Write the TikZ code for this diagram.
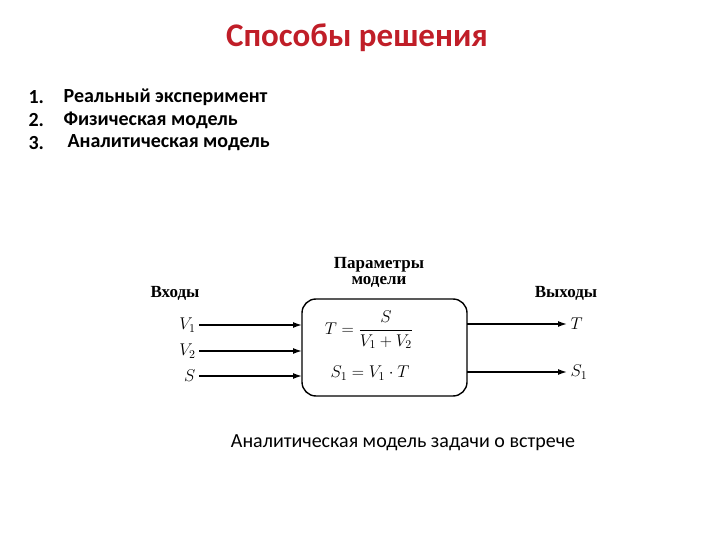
\RequirePackage{fix-cm}
\documentclass[tikz,border=0pt]{standalone}
\usepackage{fontspec}
\setmainfont{Carlito}
\newfontfamily\timesfont{Liberation Serif}
\usepackage{amsmath}
\usepackage{tikz}
\usetikzlibrary{arrows.meta}
\definecolor{titlered}{RGB}{192,30,40}
\tikzset{
    lbl/.style={font=\timesfont\bfseries\fontsize{17}{17}\selectfont, align=center},
    itm/.style={font=\bfseries\fontsize{20}{22}\selectfont, anchor=west},
    mth/.style={font=\fontsize{17}{20}\selectfont},
    io/.style={-{Latex[length=9pt,width=6pt]}, line width=1.4pt},
}
\begin{document}
\begin{tikzpicture}[x=1pt,y=-1pt]
\useasboundingbox (0,0) rectangle (720,540);
    \node (title) at (357,38) {\color{titlered}\bfseries\fontsize{33}{36}\selectfont Способы решения};
    %
    \node[itm] (n1) at (25,97) {1.};
    \node[itm] (n2) at (25,120) {2.};
    \node[itm] (n3) at (25,143) {3.};
    \node[itm] (t1) at (60,97) {Реальный эксперимент};
    \node[itm] (t2) at (60,120) {Физическая модель};
    \node[itm] (t3) at (64,143) {Аналитическая модель};
%%%%%%%%%%%%%%%%%%%%%%%%%%%%%%%%%%%%%
\begin{scope}
    \draw[line width=1.4pt, rounded corners=14pt] (302,299) rectangle (467,396);
    \coordinate (inA) at (302,325);
    \coordinate (inB) at (302,351);
    \coordinate (inC) at (302,376);
    \coordinate (outA) at (467,324);
    \coordinate (outB) at (467,372);
    \node[lbl] (par) at (379,272) {Параметры\\[-1pt]модели};
    \node[lbl] (vin) at (175,293) {Входы};
    \node[lbl] (vout) at (566,293) {Выходы};
    %
    \node[mth] (f1) at (369,330) {$T=\dfrac{S}{V_1+V_2}$};
    \node[mth] (f2) at (370,373) {$S_1=V_1\cdot T$};
    %
    \node[mth, anchor=east] (v1) at (199,325) {$V_1$};
    \node[mth, anchor=east] (v2) at (199,351) {$V_2$};
    \node[mth, anchor=east] (s) at (199,376) {$S$};
    \node[mth, anchor=west] (t) at (567,324) {$T$};
    \node[mth, anchor=west] (s1) at (567,372) {$S_1$};
    %
    \draw[io] (v1) -- (inA);
    \draw[io] (v2) -- (inB);
    \draw[io] (s) -- (inC);
    \draw[io] (outA) -- (t);
    \draw[io] (outB) -- (s1);
\end{scope}
    \node (cap) at (403,443) {\fontsize{20}{22}\selectfont Аналитическая модель задачи о встрече};
\end{tikzpicture}
\end{document}
